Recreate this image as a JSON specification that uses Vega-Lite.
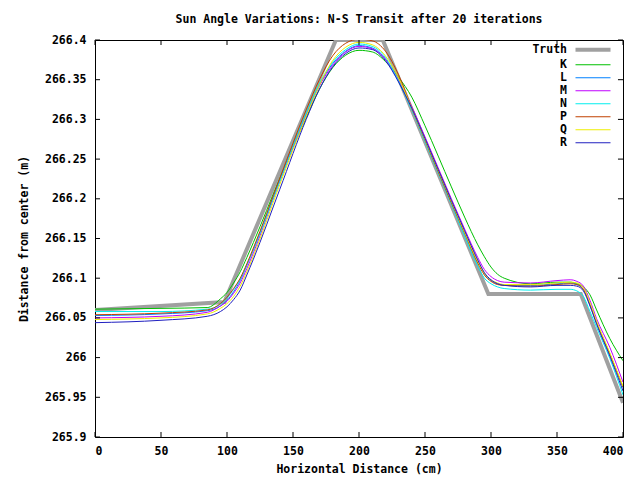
{
  "$schema": "https://vega.github.io/schema/vega-lite/v6.json",
  "width": 528,
  "height": 397,
  "autosize": {"type": "none"},
  "padding": {"left": 95, "top": 40, "right": 17, "bottom": 43},
  "background": "white",
  "title": {
    "text": "Sun Angle Variations: N-S Transit after 20 iterations",
    "font": "DejaVu Sans Mono",
    "fontSize": 11.5,
    "fontWeight": "bold",
    "color": "black",
    "offset": 9
  },
  "config": {
    "view": {"stroke": "black", "strokeWidth": 1},
    "axis": {
      "labelFont": "DejaVu Sans Mono",
      "labelFontSize": 11.5,
      "labelFontWeight": "bold",
      "labelColor": "black",
      "titleFont": "DejaVu Sans Mono",
      "titleFontSize": 11.5,
      "titleFontWeight": "bold",
      "titleColor": "black",
      "grid": false,
      "domain": false,
      "ticks": false,
      "tickSize": 0
    },
    "legend": {
      "labelFont": "DejaVu Sans Mono",
      "labelFontSize": 11.5,
      "labelFontWeight": "bold",
      "labelColor": "black"
    }
  },
  "datasets": {
    "xticks": [{"t": 0}, {"t": 50}, {"t": 100}, {"t": 150}, {"t": 200}, {"t": 250}, {"t": 300}, {"t": 350}, {"t": 400}],
    "yticks": [{"t": 265.9}, {"t": 265.95}, {"t": 266}, {"t": 266.05}, {"t": 266.1}, {"t": 266.15}, {"t": 266.2}, {"t": 266.25}, {"t": 266.3}, {"t": 266.35}, {"t": 266.4}],
    "truth": [
      {"x": 0, "value": 266.060, "series": "Truth"},
      {"x": 98, "value": 266.070, "series": "Truth"},
      {"x": 182.5, "value": 266.400, "series": "Truth"},
      {"x": 218, "value": 266.400, "series": "Truth"},
      {"x": 298, "value": 266.080, "series": "Truth"},
      {"x": 368, "value": 266.080, "series": "Truth"},
      {"x": 400, "value": 265.943, "series": "Truth"}
    ],
    "estimates": [
      {"x": 0, "K": 266.061, "L": 266.053, "M": 266.050, "N": 266.058, "P": 266.054, "Q": 266.048, "R": 266.044},
      {"x": 50, "K": 266.062, "L": 266.055, "M": 266.052, "N": 266.058, "P": 266.056, "Q": 266.050, "R": 266.047},
      {"x": 85, "K": 266.063, "L": 266.059, "M": 266.057, "N": 266.061, "P": 266.060, "Q": 266.055, "R": 266.052},
      {"x": 95, "K": 266.074, "L": 266.065, "M": 266.065, "N": 266.067, "P": 266.068, "Q": 266.062, "R": 266.058},
      {"x": 100, "K": 266.082, "L": 266.072, "M": 266.071, "N": 266.075, "P": 266.076, "Q": 266.068, "R": 266.064},
      {"x": 105, "K": 266.094, "L": 266.083, "M": 266.081, "N": 266.086, "P": 266.087, "Q": 266.077, "R": 266.073},
      {"x": 110, "K": 266.108, "L": 266.097, "M": 266.094, "N": 266.099, "P": 266.100, "Q": 266.090, "R": 266.085},
      {"x": 115, "K": 266.126, "L": 266.116, "M": 266.112, "N": 266.117, "P": 266.118, "Q": 266.108, "R": 266.104},
      {"x": 120, "K": 266.145, "L": 266.136, "M": 266.132, "N": 266.136, "P": 266.138, "Q": 266.128, "R": 266.124},
      {"x": 140, "K": 266.226, "L": 266.224, "M": 266.222, "N": 266.222, "P": 266.226, "Q": 266.218, "R": 266.212},
      {"x": 160, "K": 266.302, "L": 266.307, "M": 266.305, "N": 266.308, "P": 266.312, "Q": 266.304, "R": 266.300},
      {"x": 170, "K": 266.338, "L": 266.344, "M": 266.342, "N": 266.345, "P": 266.350, "Q": 266.343, "R": 266.338},
      {"x": 180, "K": 266.365, "L": 266.370, "M": 266.368, "N": 266.372, "P": 266.380, "Q": 266.374, "R": 266.366},
      {"x": 190, "K": 266.381, "L": 266.386, "M": 266.385, "N": 266.388, "P": 266.396, "Q": 266.391, "R": 266.383},
      {"x": 200, "K": 266.387, "L": 266.393, "M": 266.392, "N": 266.395, "P": 266.401, "Q": 266.397, "R": 266.390},
      {"x": 210, "K": 266.385, "L": 266.390, "M": 266.389, "N": 266.392, "P": 266.399, "Q": 266.394, "R": 266.388},
      {"x": 220, "K": 266.373, "L": 266.376, "M": 266.376, "N": 266.378, "P": 266.386, "Q": 266.380, "R": 266.374},
      {"x": 230, "K": 266.353, "L": 266.348, "M": 266.350, "N": 266.348, "P": 266.356, "Q": 266.352, "R": 266.347},
      {"x": 240, "K": 266.328, "L": 266.313, "M": 266.316, "N": 266.312, "P": 266.314, "Q": 266.314, "R": 266.314},
      {"x": 250, "K": 266.292, "L": 266.275, "M": 266.278, "N": 266.272, "P": 266.274, "Q": 266.275, "R": 266.276},
      {"x": 270, "K": 266.215, "L": 266.196, "M": 266.200, "N": 266.193, "P": 266.195, "Q": 266.197, "R": 266.198},
      {"x": 280, "K": 266.177, "L": 266.158, "M": 266.162, "N": 266.153, "P": 266.157, "Q": 266.158, "R": 266.160},
      {"x": 290, "K": 266.142, "L": 266.121, "M": 266.126, "N": 266.115, "P": 266.119, "Q": 266.121, "R": 266.123},
      {"x": 295, "K": 266.127, "L": 266.106, "M": 266.111, "N": 266.100, "P": 266.104, "Q": 266.106, "R": 266.107},
      {"x": 300, "K": 266.114, "L": 266.097, "M": 266.102, "N": 266.093, "P": 266.096, "Q": 266.098, "R": 266.098},
      {"x": 305, "K": 266.105, "L": 266.093, "M": 266.097, "N": 266.089, "P": 266.092, "Q": 266.094, "R": 266.093},
      {"x": 310, "K": 266.100, "L": 266.091, "M": 266.095, "N": 266.087, "P": 266.091, "Q": 266.092, "R": 266.091},
      {"x": 330, "K": 266.093, "L": 266.091, "M": 266.094, "N": 266.085, "P": 266.090, "Q": 266.092, "R": 266.089},
      {"x": 350, "K": 266.095, "L": 266.093, "M": 266.097, "N": 266.086, "P": 266.092, "Q": 266.094, "R": 266.091},
      {"x": 360, "K": 266.095, "L": 266.094, "M": 266.098, "N": 266.086, "P": 266.093, "Q": 266.095, "R": 266.091},
      {"x": 365, "K": 266.093, "L": 266.092, "M": 266.096, "N": 266.084, "P": 266.092, "Q": 266.094, "R": 266.090},
      {"x": 370, "K": 266.089, "L": 266.086, "M": 266.090, "N": 266.077, "P": 266.086, "Q": 266.088, "R": 266.084},
      {"x": 375, "K": 266.079, "L": 266.066, "M": 266.072, "N": 266.058, "P": 266.067, "Q": 266.069, "R": 266.065},
      {"x": 380, "K": 266.060, "L": 266.044, "M": 266.049, "N": 266.038, "P": 266.044, "Q": 266.046, "R": 266.042},
      {"x": 390, "K": 266.024, "L": 266.005, "M": 266.013, "N": 265.999, "P": 266.004, "Q": 266.006, "R": 266.002},
      {"x": 400, "K": 265.996, "L": 265.962, "M": 265.969, "N": 265.953, "P": 265.963, "Q": 265.964, "R": 265.958}
    ]
  },
  "layer": [
    {
      "data": {"name": "truth"},
      "mark": {"type": "line", "strokeWidth": 4, "clip": true},
      "encoding": {
        "x": {
          "field": "x",
          "type": "quantitative",
          "scale": {"domain": [0, 400], "nice": false},
          "axis": {"orient": "bottom", "title": "Horizontal Distance (cm)", "values": [0, 50, 100, 150, 200, 250, 300, 350, 400], "labelPadding": 8, "titleY": 26}
        },
        "y": {
          "field": "value",
          "type": "quantitative",
          "scale": {"domain": [265.9, 266.4], "nice": false, "zero": false},
          "axis": {"orient": "left", "title": "Distance from center (m)", "values": [265.9, 265.95, 266, 266.05, 266.1, 266.15, 266.2, 266.25, 266.3, 266.35, 266.4], "format": ".6~r", "labelPadding": 9, "titleX": -66}
        },
        "color": {
          "field": "series",
          "type": "nominal",
          "scale": {
            "domain": ["Truth", "K", "L", "M", "N", "P", "Q", "R"],
            "range": ["#a0a0a0", "#00c000", "#0080ff", "#c000ff", "#00eeee", "#c04000", "#eeee00", "#2020c0"]
          },
          "legend": {
            "title": null,
            "orient": "none",
            "legendX": 477,
            "legendY": 4,
            "symbolType": "stroke",
            "symbolSize": 100,
            "rowPadding": 0,
            "encode": {
              "labels": {"update": {"x": {"value": -5}, "align": {"value": "right"}}},
              "symbols": {
                "update": {
                  "x": {"value": 21},
                  "size": {"value": 1225},
                  "strokeWidth": {"signal": "datum.value === 'Truth' ? 4 : 1"}
                }
              }
            }
          }
        }
      }
    },
    {
      "data": {"name": "estimates"},
      "transform": [{"fold": ["K", "L", "M", "N", "P", "Q", "R"], "as": ["series", "value"]}],
      "mark": {"type": "line", "strokeWidth": 1, "interpolate": "monotone", "clip": true},
      "encoding": {
        "x": {
          "field": "x",
          "type": "quantitative",
          "axis": {"orient": "bottom", "title": "Horizontal Distance (cm)", "values": [0, 50, 100, 150, 200, 250, 300, 350, 400], "labelPadding": 8, "titleY": 26}
        },
        "y": {
          "field": "value",
          "type": "quantitative",
          "axis": {"orient": "left", "title": "Distance from center (m)", "values": [265.9, 265.95, 266, 266.05, 266.1, 266.15, 266.2, 266.25, 266.3, 266.35, 266.4], "format": ".6~r", "labelPadding": 9, "titleX": -66}
        },
        "color": {"field": "series", "type": "nominal"}
      }
    },
    {
      "data": {"name": "xticks"},
      "mark": {"type": "rule", "color": "black", "strokeWidth": 1},
      "encoding": {
        "x": {
          "field": "t",
          "type": "quantitative",
          "axis": {"orient": "bottom", "title": "Horizontal Distance (cm)", "values": [0, 50, 100, 150, 200, 250, 300, 350, 400], "labelPadding": 8, "titleY": 26}
        },
        "y": {
          "datum": 265.9,
          "type": "quantitative",
          "axis": {"orient": "left", "title": "Distance from center (m)", "values": [265.9, 265.95, 266, 266.05, 266.1, 266.15, 266.2, 266.25, 266.3, 266.35, 266.4], "format": ".6~r", "labelPadding": 9, "titleX": -66}
        },
        "y2": {"datum": 265.9063}
      }
    },
    {
      "data": {"name": "xticks"},
      "mark": {"type": "rule", "color": "black", "strokeWidth": 1},
      "encoding": {
        "x": {
          "field": "t",
          "type": "quantitative",
          "axis": {"orient": "bottom", "title": "Horizontal Distance (cm)", "values": [0, 50, 100, 150, 200, 250, 300, 350, 400], "labelPadding": 8, "titleY": 26}
        },
        "y": {
          "datum": 266.4,
          "type": "quantitative",
          "axis": {"orient": "left", "title": "Distance from center (m)", "values": [265.9, 265.95, 266, 266.05, 266.1, 266.15, 266.2, 266.25, 266.3, 266.35, 266.4], "format": ".6~r", "labelPadding": 9, "titleX": -66}
        },
        "y2": {"datum": 266.3937}
      }
    },
    {
      "data": {"name": "yticks"},
      "mark": {"type": "rule", "color": "black", "strokeWidth": 1},
      "encoding": {
        "y": {
          "field": "t",
          "type": "quantitative",
          "axis": {"orient": "left", "title": "Distance from center (m)", "values": [265.9, 265.95, 266, 266.05, 266.1, 266.15, 266.2, 266.25, 266.3, 266.35, 266.4], "format": ".6~r", "labelPadding": 9, "titleX": -66}
        },
        "x": {
          "datum": 0,
          "type": "quantitative",
          "axis": {"orient": "bottom", "title": "Horizontal Distance (cm)", "values": [0, 50, 100, 150, 200, 250, 300, 350, 400], "labelPadding": 8, "titleY": 26}
        },
        "x2": {"datum": 3.8}
      }
    },
    {
      "data": {"name": "yticks"},
      "mark": {"type": "rule", "color": "black", "strokeWidth": 1},
      "encoding": {
        "y": {
          "field": "t",
          "type": "quantitative",
          "axis": {"orient": "left", "title": "Distance from center (m)", "values": [265.9, 265.95, 266, 266.05, 266.1, 266.15, 266.2, 266.25, 266.3, 266.35, 266.4], "format": ".6~r", "labelPadding": 9, "titleX": -66}
        },
        "x": {
          "datum": 400,
          "type": "quantitative",
          "axis": {"orient": "bottom", "title": "Horizontal Distance (cm)", "values": [0, 50, 100, 150, 200, 250, 300, 350, 400], "labelPadding": 8, "titleY": 26}
        },
        "x2": {"datum": 396.2}
      }
    }
  ]
}
